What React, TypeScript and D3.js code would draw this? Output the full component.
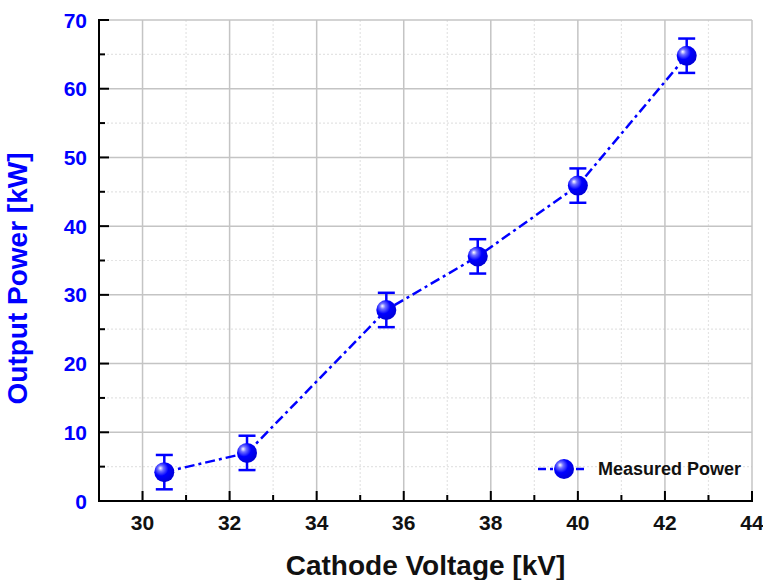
import React from "react";
import * as d3 from "d3";

const voltage = [30.5, 32.4, 35.6, 37.7, 40.0, 42.5];
const power = [4.2, 7.0, 27.8, 35.6, 45.9, 64.8];
const powerErr = [2.5, 2.5, 2.5, 2.5, 2.5, 2.5];
const xTicks = [30, 32, 34, 36, 38, 40, 42, 44];
const xMinor = [29, 31, 33, 35, 37, 39, 41, 43];
const yTicks = [0, 10, 20, 30, 40, 50, 60, 70];
const yMinor = [5, 15, 25, 35, 45, 55, 65];
const seriesName = "Measured Power";
const xTitle = "Cathode Voltage [kV]";
const yTitle = "Output Power [kW]";

const W = 763;
const H = 580;
const left = 99;
const right = 752;
const top = 20;
const bottom = 501;
const BLUE = "#0000ff";
const FONT = "'Liberation Sans', Arial, sans-serif";

export default function App() {
  const x = d3.scaleLinear().domain([29, 44]).range([left, right]);
  const y = d3.scaleLinear().domain([0, 70]).range([bottom, top]);
  const data = voltage.map((v, i) => ({ v, p: power[i], e: powerErr[i] }));
  const line = d3
    .line<{ v: number; p: number }>()
    .x((d) => x(d.v))
    .y((d) => y(d.p));
  const dash = "10,4,3,4";
  const r = 10;
  const cap = 8.5;

  const marker = (cx: number, cy: number, key: string) => (
    <circle key={key} cx={cx} cy={cy} r={r} fill="url(#ball)" />
  );

  const legY = 469;
  return (
    <div style={{ position: "absolute", left: 0, top: 0 }}>
      <svg width={W} height={H} style={{ display: "block" }}>
        <defs>
          <radialGradient id="ball" cx="0.38" cy="0.36" r="0.65" fx="0.3" fy="0.3">
            <stop offset="0" stopColor="#ffffff" />
            <stop offset="0.22" stopColor="#7070ff" />
            <stop offset="0.55" stopColor="#0000ff" />
            <stop offset="1" stopColor="#0000d8" />
          </radialGradient>
        </defs>
        <rect width={W} height={H} fill="#fff" />
        {/* minor grid */}
        {xMinor.map((t) => (
          <line key={"xm" + t} x1={x(t)} x2={x(t)} y1={top} y2={bottom} stroke="#e4e4e4" strokeWidth={1.2} strokeDasharray="2,2" />
        ))}
        {yMinor.map((t) => (
          <line key={"ym" + t} x1={left} x2={right} y1={y(t)} y2={y(t)} stroke="#e4e4e4" strokeWidth={1.2} strokeDasharray="2,2" />
        ))}
        {/* major grid */}
        {xTicks.map((t) => (
          <line key={"xg" + t} x1={x(t)} x2={x(t)} y1={top} y2={bottom} stroke="#c4c4c4" strokeWidth={1.5} />
        ))}
        {yTicks.map((t) => (
          <line key={"yg" + t} x1={left} x2={right} y1={y(t)} y2={y(t)} stroke="#c4c4c4" strokeWidth={1.5} />
        ))}
        {/* axes */}
        <line x1={left} x2={left} y1={top - 1} y2={bottom} stroke="#000" strokeWidth={2} />
        <line x1={left - 1} x2={right + 1} y1={bottom} y2={bottom} stroke="#000" strokeWidth={2} />
        {yTicks.map((t) => (
          <line key={"yt" + t} x1={left} x2={left + 10} y1={y(t)} y2={y(t)} stroke="#000" strokeWidth={2} />
        ))}
        {yMinor.map((t) => (
          <line key={"ymt" + t} x1={left} x2={left + 6} y1={y(t)} y2={y(t)} stroke="#000" strokeWidth={2} />
        ))}
        {xTicks.map((t) => (
          <line key={"xt" + t} x1={x(t)} x2={x(t)} y1={bottom} y2={bottom - 10} stroke="#000" strokeWidth={2} />
        ))}
        {xMinor.map((t) => (
          <line key={"xmt" + t} x1={x(t)} x2={x(t)} y1={bottom} y2={bottom - 6} stroke="#000" strokeWidth={2} />
        ))}
        {/* tick labels */}
        {yTicks.map((t) => (
          <text key={"yl" + t} x={left - 12} y={y(t)} dy="0.36em" textAnchor="end" fontFamily={FONT} fontWeight="bold" fontSize={21} fill={BLUE}>
            {t}
          </text>
        ))}
        {xTicks.map((t) => (
          <text key={"xl" + t} x={x(t)} y={530} textAnchor="middle" fontFamily={FONT} fontWeight="bold" fontSize={21} fill="#111">
            {t}
          </text>
        ))}
        {/* titles */}
        <text x={425.5} y={575} textAnchor="middle" fontFamily={FONT} fontWeight="bold" fontSize={28} fill="#111">
          {xTitle}
        </text>
        <text transform={`translate(27,278.5) rotate(-90)`} textAnchor="middle" fontFamily={FONT} fontWeight="bold" fontSize={28} fill={BLUE}>
          {yTitle}
        </text>
        {/* series line */}
        <path d={line(data) || ""} fill="none" stroke={BLUE} strokeWidth={2.5} strokeDasharray={dash} />
        {/* error bars */}
        {data.map((d, i) => (
          <g key={"e" + i} stroke={BLUE} strokeWidth={2.5}>
            <line x1={x(d.v)} x2={x(d.v)} y1={y(d.p + d.e)} y2={y(d.p - d.e)} />
            <line x1={x(d.v) - cap} x2={x(d.v) + cap} y1={y(d.p + d.e)} y2={y(d.p + d.e)} />
            <line x1={x(d.v) - cap} x2={x(d.v) + cap} y1={y(d.p - d.e)} y2={y(d.p - d.e)} />
          </g>
        ))}
        {data.map((d, i) => marker(x(d.v), y(d.p), "m" + i))}
        {/* legend */}
        <line x1={538} x2={588} y1={legY} y2={legY} stroke={BLUE} strokeWidth={2.5} strokeDasharray="8,4,3,4" />
        {marker(564, legY, "leg")}
        <text x={598} y={legY} dy="0.36em" fontFamily={FONT} fontWeight="bold" fontSize={18} fill="#111">
          {seriesName}
        </text>
      </svg>
    </div>
  );
}
